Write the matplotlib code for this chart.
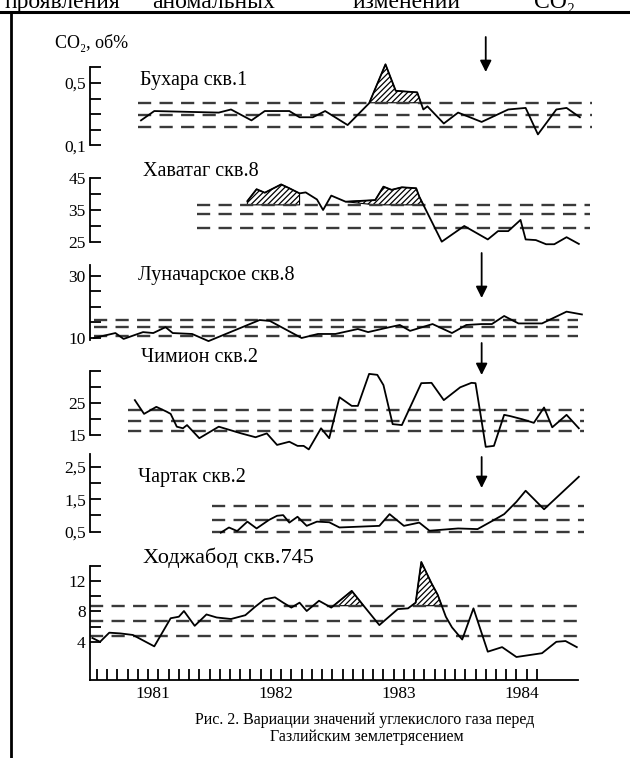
import numpy as np
import matplotlib
matplotlib.use("Agg")
import matplotlib.pyplot as plt

plt.rcParams['font.family'] = ['Liberation Serif', 'DejaVu Serif']
plt.rcParams['lines.scale_dashes'] = False
plt.rcParams['hatch.linewidth'] = 0.9

# ---- data (x = months counted from Jan 1981) ----
buhara_x = [4.3, 5.6, 11.9, 13.1, 15.1, 16.4, 18.8, 19.8, 21.1, 22.3, 24.5, 26.6, 28.2,
            29.2, 31.3, 31.9, 32.3, 33.9, 35.3, 37.6, 40.2, 41.9, 43.1, 44.9, 45.9, 47.2]
buhara_y = [0.26, 0.32, 0.31, 0.33, 0.26, 0.32, 0.32, 0.28, 0.28, 0.32, 0.23, 0.37, 0.62,
            0.45, 0.44, 0.33, 0.35, 0.24, 0.31, 0.25, 0.33, 0.34, 0.17, 0.33, 0.34, 0.28]
buhara_lev = [0.373, 0.294, 0.218]

havatag_x = [14.7, 15.6, 16.4, 18.0, 18.8, 19.8, 20.4, 21.5, 22.1, 22.9, 24.3, 27.2, 28.0,
             28.8, 29.8, 31.2, 31.5, 33.7, 35.9, 38.2, 39.2, 40.2, 41.4, 41.9, 42.9, 43.9,
             44.7, 45.9, 47.1]
havatag_y = [37.8, 41.5, 40.4, 43.0, 41.8, 40.2, 40.5, 38.3, 35.0, 39.5, 37.6, 38.1, 42.3,
             41.3, 42.1, 41.8, 39.2, 25.1, 30.0, 25.8, 28.4, 28.4, 31.9, 25.8, 25.6, 24.3,
             24.3, 26.5, 24.4]
havatag_lev = [36.6, 33.7, 29.5]

lunach_x = [-0.3, 1.8, 2.6, 4.5, 5.5, 6.7, 7.4, 9.3, 10.9, 15.9, 16.9, 20.0, 21.6, 23.3,
            25.5, 26.5, 28.2, 29.6, 30.6, 32.8, 34.7, 36.1, 37.6, 38.6, 39.8, 41.2, 43.5,
            45.9, 47.4]
lunach_y = [10.0, 11.6, 9.7, 11.9, 11.6, 13.5, 11.6, 11.3, 9.0, 15.8, 15.5, 10.0, 11.3,
            11.3, 12.9, 11.9, 13.2, 14.2, 12.3, 14.5, 11.6, 14.2, 14.5, 14.5, 17.1, 14.7,
            14.7, 18.5, 17.6]
lunach_lev = [15.8, 13.6, 10.7]

chimion_x = [3.7, 4.6, 5.8, 6.8, 7.2, 7.8, 8.4, 8.8, 10.0, 11.9, 14.1, 15.5, 16.6, 17.6,
             18.8, 19.6, 20.2, 20.7, 21.9, 22.7, 23.7, 24.9, 25.5, 26.6, 27.4, 28.0, 28.9,
             29.8, 31.7, 32.7, 33.9, 35.5, 36.6, 37.0, 38.0, 38.8, 39.8, 40.4, 41.6, 42.7,
             43.7, 44.5, 45.9, 47.1]
chimion_y = [25.9, 21.6, 23.8, 22.3, 21.6, 17.6, 17.1, 18.1, 14.0, 17.6, 15.5, 14.3, 15.5,
             11.9, 12.9, 11.6, 11.6, 10.5, 17.1, 14.0, 26.8, 24.1, 24.1, 34.1, 33.8, 30.6,
             18.4, 18.1, 31.2, 31.3, 25.9, 29.9, 31.3, 31.2, 11.3, 11.6, 21.3, 20.9, 19.9,
             18.8, 23.6, 17.4, 21.3, 17.1]
chimion_lev = [22.8, 19.5, 16.3]

chartak_x = [12.1, 12.9, 13.7, 14.7, 15.6, 16.8, 17.6, 18.2, 18.8, 19.6, 20.5, 21.5, 22.7,
             23.7, 27.6, 28.6, 30.0, 31.5, 32.5, 35.3, 37.2, 38.8, 39.8, 41.0, 41.9, 43.7, 47.1]
chartak_y = [0.47, 0.63, 0.52, 0.81, 0.60, 0.86, 0.99, 1.01, 0.78, 0.96, 0.68, 0.81, 0.79,
             0.63, 0.68, 1.04, 0.68, 0.78, 0.53, 0.60, 0.58, 0.86, 1.04, 1.42, 1.76, 1.19, 2.19]
chartak_lev = [1.30, 0.86, 0.48]

hodj_x = [-0.45, 0.3, 1.2, 2.3, 3.5, 5.6, 7.2, 8.0, 8.5, 9.55, 10.7, 11.7, 13.1, 14.5,
          15.45, 16.4, 17.4, 18.2, 19.0, 19.8, 20.5, 21.7, 22.9, 24.9, 26.0, 27.6, 29.4,
          30.4, 31.15, 31.7, 32.7, 33.3, 34.1, 34.7, 35.7, 36.8, 38.2, 39.6, 41.0, 43.5,
          44.9, 45.8, 46.9]
hodj_y = [4.5, 4.0, 5.2, 5.1, 4.9, 3.4, 7.1, 7.3, 8.05, 6.1, 7.6, 7.2, 7.0, 7.5, 8.6, 9.6,
          9.85, 9.15, 8.5, 9.15, 8.05, 9.4, 8.5, 10.7, 8.85, 6.2, 8.3, 8.4, 9.15, 14.5, 11.7,
          10.2, 7.3, 5.9, 4.3, 8.4, 2.7, 3.3, 2.0, 2.5, 4.0, 4.1, 3.3]
hodj_lev = [8.75, 6.7, 4.7]

years = ['1981', '1982', '1983', '1984']
year_pos = [5.5, 17.5, 29.5, 41.5]
event_month = [38.0, 37.6, 37.6, 37.6]

# ---- layout (pixels, from top-left) ----
W, H = 630, 758
L, R = 90, 600
X0, PXM = 97.0, 10.23          # px of month 0, px per month


def m_of(px):
    return (px - X0) / PXM


fig = plt.figure(figsize=(W / 100, H / 100), dpi=100)


def panel(top, bot, cal):
    (v1, p1), (v2, p2) = cal
    k = (v1 - v2) / (p2 - p1)
    ax = fig.add_axes([L / W, 1 - bot / H, (R - L) / W, (bot - top) / H])
    ax.set_xlim(m_of(L), m_of(R))
    ax.set_ylim(v2 - (bot - p2) * k, v1 + (p1 - top) * k)
    ax.patch.set_visible(False)
    for s in ('top', 'right', 'bottom'):
        ax.spines[s].set_visible(False)
    ax.spines['left'].set_linewidth(1.3)
    ax.set_xticks([])
    ax.tick_params(axis='y', direction='in', length=8, width=1.3, pad=3, labelsize=12.5)
    return ax


def levels(ax, lev, x0, x1):
    for v in lev:
        ax.plot([x0, x1], [v, v], color='#3a3a3a', lw=1.7, dashes=(9.5, 6))


def hatch(ax, x, y, thr, spans):
    x = np.asarray(x)
    y = np.asarray(y)
    for a, b in spans:
        w = (x >= a) & (x <= b) & (y >= thr)
        ax.fill_between(x, y, thr, where=w, interpolate=True, facecolor='none',
                        edgecolor='black', hatch='//////', lw=0.8)


def arrow(ax, xm, y_top, y_tip):
    ax.annotate('', xy=(xm, H - y_tip), xytext=(xm, H - y_top),
                xycoords=('data', 'figure pixels'),
                arrowprops=dict(arrowstyle='-|>', lw=1.3, color='black', mutation_scale=17,
                                shrinkA=0, shrinkB=0))


series_kw = dict(color='black', lw=1.3)

# 1. Бухара
ax = panel(60, 160, ((0.5, 83), (0.1, 145.3)))
ax.spines['left'].set_bounds(0.1, 0.6)
ax.set_yticks([0.1, 0.2, 0.3, 0.4, 0.5, 0.6], ['0,1', '', '', '', '0,5', ''])
levels(ax, buhara_lev, m_of(138), m_of(592))
hatch(ax, buhara_x, buhara_y, buhara_lev[0], [(26.0, 31.6)])
ax.plot(buhara_x, buhara_y, **series_kw)
arrow(ax, event_month[0], 37, 72)

# 2. Хаватаг
ax = panel(165, 250, ((45, 178), (25, 242)))
ax.spines['left'].set_bounds(25, 45)
ax.set_yticks([25, 30, 35, 40, 45], ['25', '', '35', '', '45'])
levels(ax, havatag_lev, m_of(197), m_of(590))
hatch(ax, havatag_x, havatag_y, havatag_lev[0], [(14.0, 20.0), (27.0, 31.6)])
ax.plot(havatag_x, havatag_y, **series_kw)

# 3. Луначарское
ax = panel(258, 345, ((30, 276), (10, 338)))
ax.spines['left'].set_bounds(9.4, 33.5)
ax.set_yticks([10, 15, 20, 25, 30], ['10', '', '', '', '30'])
levels(ax, lunach_lev, m_of(94), m_of(578))
ax.plot(lunach_x, lunach_y, **series_kw)
arrow(ax, event_month[1], 253, 298)

# 4. Чимион
ax = panel(350, 455, ((25, 403), (15, 435)))
ax.spines['left'].set_bounds(15, 35)
ax.set_yticks([15, 20, 25, 30, 35], ['15', '', '25', '', ''])
levels(ax, chimion_lev, m_of(128), m_of(584))
ax.plot(chimion_x, chimion_y, **series_kw)
arrow(ax, event_month[2], 343, 375)

# 5. Чартак
ax = panel(450, 540, ((2.5, 466.7), (0.5, 531.7)))
ax.spines['left'].set_bounds(0.5, 2.9)
ax.set_yticks([0.5, 1.0, 1.5, 2.0, 2.5], ['0,5', '', '1,5', '', '2,5'])
levels(ax, chartak_lev, m_of(212), m_of(584))
ax.plot(chartak_x, chartak_y, **series_kw)
arrow(ax, event_month[3], 457, 488)

# 6. Ходжабод
ax = panel(555, 680, ((12, 581), (4, 641.8)))
lo = ax.get_ylim()[0]
ax.spines['left'].set_bounds(lo, 14)
ax.set_yticks([4, 6, 8, 10, 12, 14], ['4', '', '8', '', '12', ''])
ax.spines['bottom'].set_visible(True)
ax.spines['bottom'].set_linewidth(1.3)
ax.spines['bottom'].set_bounds(m_of(L), m_of(578))
ax.set_xticks(np.arange(0, 44), [''] * 44)
ax.tick_params(axis='x', direction='in', length=8, width=1.3)
for yr, xp in zip(years, year_pos):
    ax.text(xp, -0.11, yr, transform=ax.get_xaxis_transform(), ha='center', va='center',
            fontsize=12.5)
levels(ax, hodj_lev, m_of(90), m_of(578))
hatch(ax, hodj_x, hodj_y, hodj_lev[0], [(23.5, 26.5), (31.0, 33.5)])
ax.plot(hodj_x, hodj_y, **series_kw)

# ---- texts ----
def ftext(x, y, s, **kw):
    fig.text(x / W, 1 - y / H, s, **kw)


titles = [('Бухара скв.1', 140, 80, 14.5), ('Хаватаг скв.8', 143, 172, 14.5),
          ('Луначарское скв.8', 138, 275, 14.5), ('Чимион скв.2', 141, 358, 14.5),
          ('Чартак скв.2', 138, 477, 14.5), ('Ходжабод скв.745', 143, 558, 16)]
for s, x, y, fs in titles:
    ftext(x, y, s, ha='left', va='center', fontsize=fs)

ftext(55, 43, 'CO₂, об%', ha='left', va='center', fontsize=13)

# heading of the page above the figure, cut by the crop in the original
for s, x in [('проявления', 5), ('аномальных', 152), ('изменений', 353), ('CO₂', 534)]:
    ftext(x, 8, s, ha='left', va='baseline', fontsize=17)

ftext(365, 720, 'Рис. 2. Вариации значений углекислого газа перед', ha='center',
      va='center', fontsize=11.5)
ftext(367, 737, 'Газлийским землетрясением', ha='center', va='center', fontsize=11.5)

# frame lines
fig.add_artist(plt.Line2D([0, 1], [1 - 11.5 / H] * 2, transform=fig.transFigure,
                          color='black', lw=2.2))
fig.add_artist(plt.Line2D([11 / W] * 2, [0, 1 - 11.5 / H], transform=fig.transFigure,
                          color='black', lw=2.0))

fig.savefig('out.png', dpi=100)
